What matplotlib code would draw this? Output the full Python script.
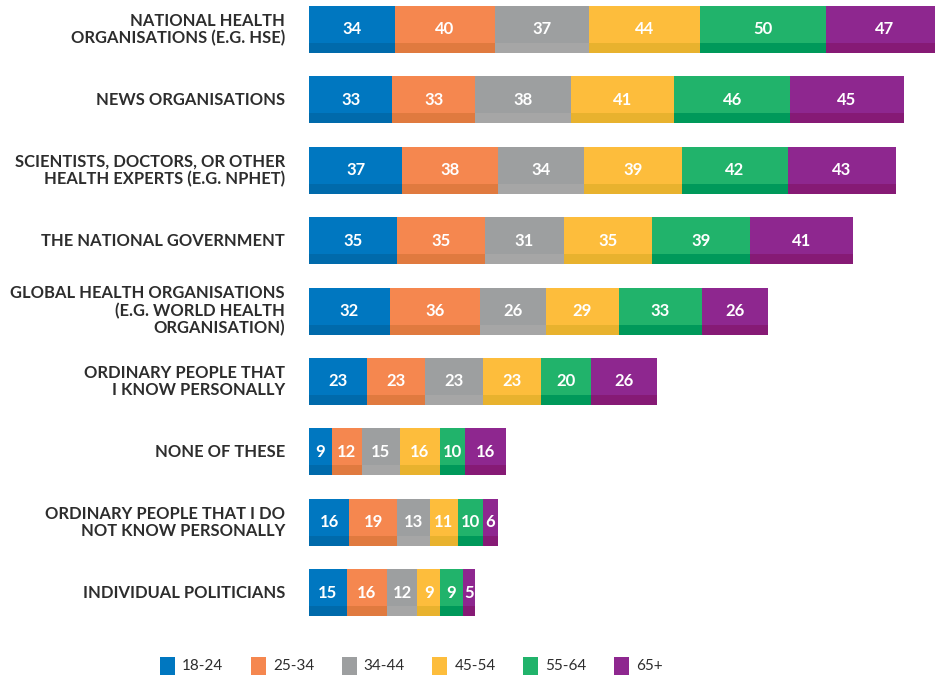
import numpy as np
import matplotlib
matplotlib.use('Agg')
import matplotlib.pyplot as plt
from matplotlib.patches import Rectangle

plt.rcParams['font.family'] = ['Lato', 'DejaVu Sans']

categories = ["NATIONAL HEALTH\nORGANISATIONS (E.G. HSE)",
              "NEWS ORGANISATIONS",
              "SCIENTISTS, DOCTORS, OR OTHER\nHEALTH EXPERTS (E.G. NPHET)",
              "THE NATIONAL GOVERNMENT",
              "GLOBAL HEALTH ORGANISATIONS\n(E.G. WORLD HEALTH\nORGANISATION)",
              "ORDINARY PEOPLE THAT\nI KNOW PERSONALLY",
              "NONE OF THESE",
              "ORDINARY PEOPLE THAT I DO\nNOT KNOW PERSONALLY",
              "INDIVIDUAL POLITICIANS"]
age_groups = ["18-24", "25-34", "34-44", "45-54", "55-64", "65+"]

v_18_24 = [34, 33, 37, 35, 32, 23, 9, 16, 15]
v_25_34 = [40, 33, 38, 35, 36, 23, 12, 19, 16]
v_34_44 = [37, 38, 34, 31, 26, 23, 15, 13, 12]
v_45_54 = [44, 41, 39, 35, 29, 23, 16, 11, 9]
v_55_64 = [50, 46, 42, 39, 33, 20, 10, 10, 9]
v_65p = [47, 45, 43, 41, 26, 26, 16, 6, 5]

series = [v_18_24, v_25_34, v_34_44, v_45_54, v_55_64, v_65p]
colors = ['#0077c0', '#f5874f', '#9d9fa0', '#fdbd3c', '#21b36b', '#8e278f']
strips = ['#006aab', '#e07a3f', '#a6a6a6', '#e8b22e', '#00995a', '#861a75']

W, H = 935, 676
fig = plt.figure(figsize=(W/100, H/100), dpi=100)
ax = fig.add_axes([309/W, 0, 1 - 309/W, 1])

pitch = 70.4
bh = 47/pitch
sh = 10/pitch
y = np.arange(len(categories))
left = np.zeros(len(categories))
for vals, c, sc in zip(series, colors, strips):
    vals = np.array(vals)
    ax.barh(y, vals, height=bh, left=left, color=c, lw=0)
    ax.barh(y + bh/2 - sh/2, vals, height=sh, left=left, color=sc, lw=0)
    for yi, l, v in zip(y, left, vals):
        ax.text(l + v/2, yi, str(v), ha='center', va='center', color='white',
                fontsize=12, fontweight='bold')
    left += vals

ax.set_xlim(0, 626/2.52)
ax.set_ylim((H - 29.5)/pitch, -29.5/pitch)
ax.set_yticks(y)
ax.set_yticklabels(categories, fontsize=11.9, fontweight='bold', color='#2d2d2d',
                   linespacing=1.1, va='center')
ax.tick_params(axis='y', length=0, pad=17.3)
ax.set_xticks([])
for s in ax.spines.values():
    s.set_visible(False)

# legend
for i, (lab, c) in enumerate(zip(age_groups, colors)):
    x0 = 160 + i*90.8
    fig.add_artist(Rectangle((x0/W, 1 - 675/H), 15/W, 18/H, color=c,
                             transform=fig.transFigure, lw=0))
    fig.text((x0 + 22)/W, 1 - 666/H, lab, ha='left', va='center',
             fontsize=11, color='#2d2d2d')

fig.savefig('out.png', dpi=100)
